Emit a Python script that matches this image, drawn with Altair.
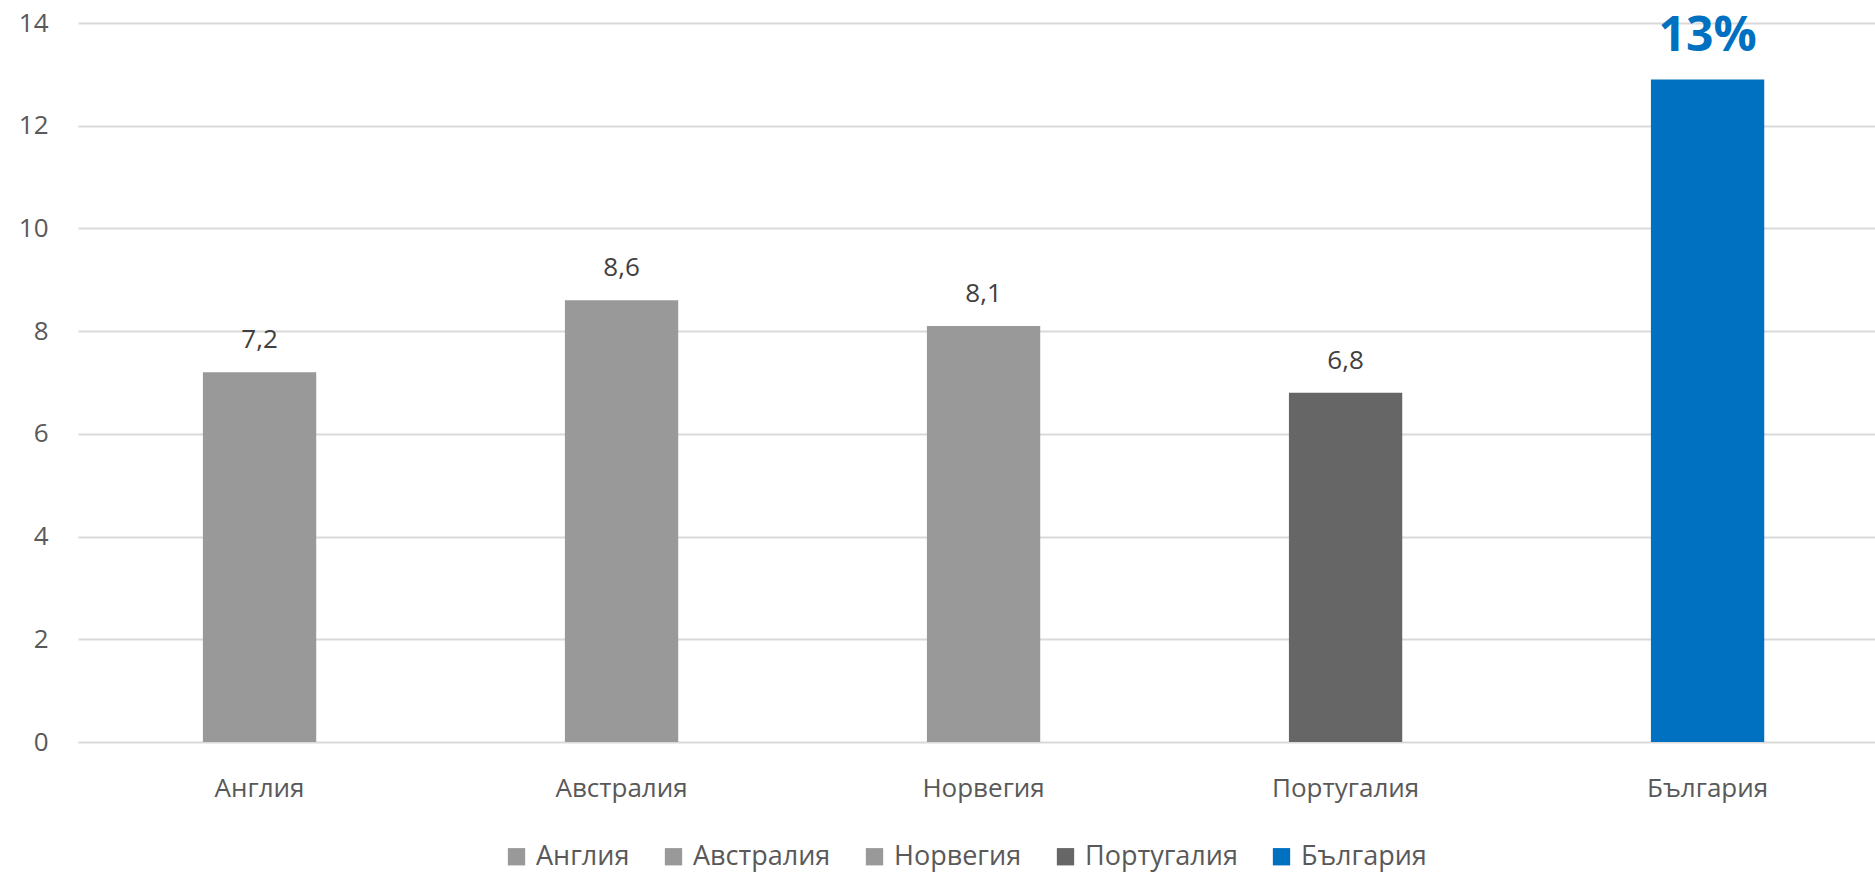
import altair as alt
import pandas as pd

categories = ["Англия", "Австралия", "Норвегия", "Португалия", "България"]
values = [7.2, 8.6, 8.1, 6.8, 12.9]
labels = ["7,2", "8,6", "8,1", "6,8", "13%"]
colors = ["#999999", "#999999", "#999999", "#666666", "#0070C0"]
y_ticks = [0, 2, 4, 6, 8, 10, 12, 14]

df = pd.DataFrame({"country": categories, "value": values, "label": labels})

FONT = "Open Sans"

x = alt.X("country:N", sort=categories, title=None,
          scale=alt.Scale(paddingInner=0.687, paddingOuter=0.3255, align=0.53),
          axis=alt.Axis(labelAngle=0, labelFontSize=26, labelColor="#595959",
                        labelFont=FONT, labelPadding=33, ticks=False, domain=False,
                        grid=False))
y = alt.Y("value:Q", title=None,
          scale=alt.Scale(domain=[0, 14], nice=False),
          axis=alt.Axis(values=y_ticks, labelFontSize=26, labelColor="#595959",
                        labelFont=FONT, labelPadding=30, ticks=False, domain=False,
                        gridColor="#d9d9d9", gridWidth=2))

color = alt.Color("country:N", sort=categories,
                  scale=alt.Scale(domain=categories, range=colors),
                  legend=alt.Legend(title=None, orient="none", direction="horizontal",
                                    legendX=425, legendY=820,
                                    symbolType="square", symbolSize=300,
                                    symbolStrokeWidth=0,
                                    labelFontSize=27, labelColor="#595959",
                                    labelFont=FONT, columnPadding=30,
                                    labelLimit=400,
                                    symbolOffset=0, labelOffset=6))

bars = alt.Chart(df).mark_bar().encode(x=x, y=y, color=color)

small = alt.Chart(df).transform_filter(
    alt.datum.country != "България"
).mark_text(dy=-32, fontSize=26, color="#404040", font=FONT).encode(
    x=alt.X("country:N", sort=categories),
    y="value:Q",
    text="label:N",
)

big = alt.Chart(df).transform_filter(
    alt.datum.country == "България"
).mark_text(dy=-42, fontSize=48, fontWeight="bold", color="#0070C0", font=FONT).encode(
    x=alt.X("country:N", sort=categories),
    y="value:Q",
    text="label:N",
)

chart = alt.layer(bars, small, big).properties(
    width=1797, height=719,
    autosize=alt.AutoSizeParams(type="none"),
    padding={"left": 78, "top": 23, "right": 0, "bottom": 136},
    background="white",
).configure_view(stroke=None)

chart.save("out.html", embed_options={"renderer": "svg", "actions": False})
